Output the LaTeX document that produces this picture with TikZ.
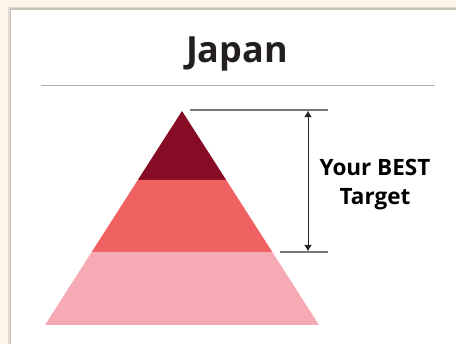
\documentclass[tikz,border=0pt]{standalone}
\usepackage{fontspec}
\setmainfont{Carlito}
\newfontfamily\titlefont{Open Sans}
\usepackage{tikz}
\usetikzlibrary{arrows,arrows.meta,positioning}

\definecolor{paper}{HTML}{FCF5EA}
\definecolor{edgegray}{HTML}{C9C2B8}
\definecolor{inkgray}{HTML}{231F20}
\definecolor{rulegray}{HTML}{B0B0B0}
\definecolor{dimgray}{HTML}{767676}
\definecolor{tipred}{HTML}{860B24}
\definecolor{midred}{HTML}{F06161}
\definecolor{basered}{HTML}{F6ABB4}

\tikzset{
  heading/.style={font=\titlefont\bfseries\fontsize{36}{40}\selectfont, text=inkgray},
  caption/.style={font=\titlefont\bfseries\fontsize{22.5}{29}\selectfont, align=center, text=black},
  dimline/.style={draw=dimgray, line width=1.3pt},
}

\begin{document}
\begin{tikzpicture}[x=1pt,y=-1pt]
        \useasboundingbox (0,0) rectangle (456,344);
        \fill[paper] (0,0) rectangle (456,344);
        \fill[edgegray!60] (8,7) rectangle (456,344);
        \fill[edgegray] (9.5,8.5) rectangle (456,344);
        \fill[white] (11,10) rectangle (456,344);

        \node[heading, anchor=base] (title) at (237,63) {Japan};
        \draw[rulegray, line width=1pt] (41,86) -- (435,86);

        % pyramid layers
        \fill[tipred] (182,111) -- (226.2,180) -- (137.8,180) -- cycle;
        \fill[midred] (137.8,180) -- (226.2,180) -- (272.3,252) -- (91.7,252) -- cycle;
        \fill[basered] (91.7,252) -- (272.3,252) -- (319,325) -- (45,325) -- cycle;

        \coordinate (T) at (308,110.7);
        \coordinate (B) at (308,251.3);
        \draw[dimline] (190,110) -- (328,110);
        \draw[dimline] (280,252) -- (328,252);
        \draw[<->,>={Latex[width=8pt,length=6.5pt]}, draw=black!85, line width=1pt] (T) -- (B);

        \node[caption] (best) at (375,185) {Your BEST\\Target};
    \end{tikzpicture}
\end{document}
